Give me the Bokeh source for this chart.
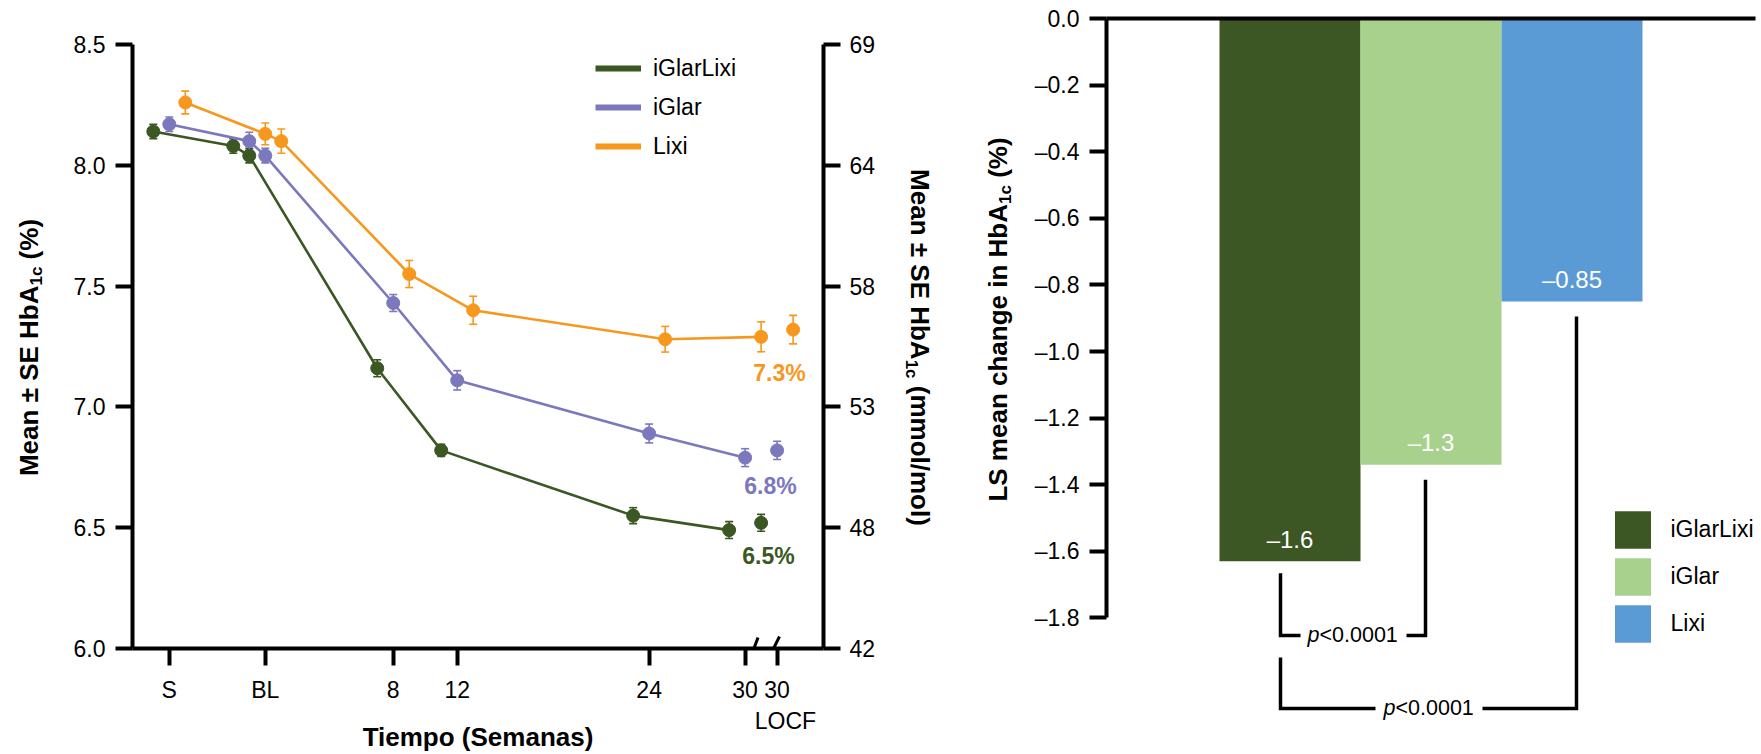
import math
from bokeh.plotting import figure
from bokeh.layouts import row, column
from bokeh.models import (ColumnDataSource, FixedTicker, LinearAxis, Range1d, Whisker, TeeHead,
                          Legend, LegendItem)
from bokeh.core.properties import value
from bokeh.embed import file_html
from bokeh.resources import INLINE

FONT = "Liberation Sans"

# ------------------------------------------------------------------ data (left chart)
series_names = ["iGlarLixi", "iGlar", "Lixi"]
series_colors = ["#3B5724", "#7B78BD", "#F7981E"]
visit_weeks = [-6, -1, 0, 8, 12, 24, 30]          # S, week -1, BL, 8, 12, 24, 30
locf_week = 32
series_dodge = [-1, 0, 1]
hba1c_iglarlixi = [8.14, 8.08, 8.04, 7.16, 6.82, 6.55, 6.49]
hba1c_iglar     = [8.17, 8.10, 8.04, 7.43, 7.11, 6.89, 6.79]
hba1c_lixi      = [8.26, 8.13, 8.10, 7.55, 7.40, 7.28, 7.29]
se_iglarlixi = [0.030, 0.030, 0.030, 0.035, 0.025, 0.033, 0.035]
se_iglar     = [0.030, 0.037, 0.030, 0.035, 0.040, 0.039, 0.037]
se_lixi      = [0.047, 0.045, 0.050, 0.056, 0.058, 0.053, 0.062]
locf_hba1c = [6.52, 6.82, 7.32]
locf_se    = [0.035, 0.038, 0.059]
endpoint_labels = ["6.5%", "6.8%", "7.3%"]
x_tick_values = [-6, 0, 8, 12, 24, 30, 32]
x_tick_labels = ["S", "BL", "8", "12", "24", "30", "30"]
locf_label = "LOCF"
x_title = "Tiempo (Semanas)"
pct_ticks = [6.0, 6.5, 7.0, 7.5, 8.0, 8.5]
pct_tick_labels = ["6.0", "6.5", "7.0", "7.5", "8.0", "8.5"]
mmol_tick_labels = ["42", "48", "53", "58", "64", "69"]

# ------------------------------------------------------------------ data (right chart)
bar_groups = ["iGlarLixi", "iGlar", "Lixi"]
bar_colors = ["#3C5724", "#A9D18E", "#5B9BD5"]
bar_pos = [1, 2, 3]
ls_mean_change = [-1.63, -1.34, -0.85]
ls_mean_labels = ["\u20131.6", "\u20131.3", "\u20130.85"]
change_ticks = [0.0, -0.2, -0.4, -0.6, -0.8, -1.0, -1.2, -1.4, -1.6, -1.8]
change_tick_labels = ["0.0", "\u20130.2", "\u20130.4", "\u20130.6", "\u20130.8",
                      "\u20131.0", "\u20131.2", "\u20131.4", "\u20131.6", "\u20131.8"]
p_italic = "p"
p_rest = "<0.0001"

# ------------------------------------------------------------------ layout (page pixels)
H = 752
T1_X = (0, 60)
P1_X = (60, 890)
T2_X = (890, 1020)
P2_X = (1020, 1758)
P1_H = 705

LF_L, LF_R, LF_T, LF_B = 132, 823, 44, 650
L_X = (-8.3, 34.9)
L_Y = (6.0, 8.5)

RF_L, RF_R, RF_T, RF_B = 1106, 1755, 18, 730
R_PPU_X = 141.0
R_X0 = 1 - (1289.5 - RF_L) / R_PPU_X
R_X = (R_X0, R_X0 + (RF_R - RF_L) / R_PPU_X)
R_PPU_Y = 333.0
R_Y = (-(RF_B - RF_T) / R_PPU_Y, 0.0)


def lx(px):
    return L_X[0] + (px - LF_L) * (L_X[1] - L_X[0]) / (LF_R - LF_L)


def ly(py):
    return L_Y[1] - (py - LF_T) * (L_Y[1] - L_Y[0]) / (LF_B - LF_T)


def rx(px):
    return R_X[0] + (px - RF_L) * (R_X[1] - R_X[0]) / (RF_R - RF_L)


def ry(py):
    return R_Y[1] - (py - RF_T) * (R_Y[1] - R_Y[0]) / (RF_B - RF_T)


ARIAL_BOLD = {' ': 278, '\u00b1': 549, '(': 333, ')': 333, '%': 889, '/': 278, '1': 556,
              'A': 722, 'E': 667, 'H': 722, 'L': 611, 'M': 833, 'S': 667, 'a': 556,
              'b': 611, 'c': 556, 'e': 556, 'g': 611, 'h': 611, 'i': 278, 'l': 278,
              'm': 889, 'n': 611, 'o': 611}


def tw(s, fs):
    return sum(ARIAL_BOLD.get(ch, 556) for ch in s) * fs / 1000.0


def text_fig(x0, x1, y0, y1):
    f = figure(width=x1 - x0, height=y1 - y0, x_range=Range1d(x0, x1), y_range=Range1d(-y1, -y0),
               x_axis_location=None, y_axis_location=None, toolbar_location=None,
               output_backend="svg", title=None, min_border=0, frame_align=False)
    f.outline_line_color = None
    f.grid.visible = False
    f.background_fill_color = "white"
    f.border_fill_color = "white"
    return f


def rot_title(f, center_x, center_y, main1, sub, main2, up, fs=26, sfs=17, shift=8):
    """Rotated bold title with a subscript; center_x is the centre of the capitals."""
    gap = tw(" ", fs)
    w1, ws, w2 = tw(main1, fs), tw(sub, sfs), tw(main2, fs)
    total = w1 + ws + gap + w2
    ang = math.pi / 2 if up else -math.pi / 2
    s = -1 if up else 1
    start = center_y - s * total / 2
    P = start + s * w1
    Q = P + s * (ws + gap)
    sx = center_x + (shift if up else -shift)
    common = dict(angle=ang, text_font=value(FONT), text_font_style="bold",
                  text_baseline="middle", text_color="black")
    f.text(x=[center_x], y=[-P], text=[main1], text_align="right",
           text_font_size=f"{fs}px", **common)
    f.text(x=[sx], y=[-P], text=[sub], text_align="left",
           text_font_size=f"{sfs}px", **common)
    f.text(x=[center_x], y=[-Q], text=[main2], text_align="left",
           text_font_size=f"{fs}px", **common)


def style_axis(ax, fs="23px", standoff=10):
    ax.axis_line_width = 4
    ax.axis_line_color = "black"
    ax.major_tick_line_width = 4
    ax.major_tick_line_color = "black"
    ax.major_tick_out = 17
    ax.major_tick_in = 0
    ax.minor_tick_line_color = None
    ax.major_label_text_font = FONT
    ax.major_label_text_font_size = fs
    ax.major_label_text_color = "black"
    ax.major_label_standoff = standoff


# ================================================================== left chart
p1 = figure(width=P1_X[1] - P1_X[0], height=P1_H, x_range=Range1d(*L_X), y_range=Range1d(*L_Y),
            output_backend="svg", toolbar_location=None, title=None, frame_align=False,
            min_border_left=LF_L - P1_X[0], min_border_right=P1_X[1] - LF_R,
            min_border_top=LF_T, min_border_bottom=P1_H - LF_B)
p1.outline_line_color = None
p1.grid.visible = False
p1.background_fill_color = "white"
p1.border_fill_color = "white"

xa = p1.xaxis[0]
xa.ticker = FixedTicker(ticks=x_tick_values)
xa.major_label_overrides = dict(zip(x_tick_values, x_tick_labels))
style_axis(xa, standoff=11)

ya = p1.yaxis[0]
ya.ticker = FixedTicker(ticks=pct_ticks)
ya.major_label_overrides = dict(zip(pct_ticks, pct_tick_labels))
style_axis(ya, standoff=10)

ya2 = LinearAxis(ticker=FixedTicker(ticks=pct_ticks),
                 major_label_overrides=dict(zip(pct_ticks, mmol_tick_labels)))
style_axis(ya2, standoff=9)
p1.add_layout(ya2, "right")

all_vals = [hba1c_iglarlixi, hba1c_iglar, hba1c_lixi]
all_se = [se_iglarlixi, se_iglar, se_lixi]
legend_proxies = []
for i, name in enumerate(series_names):
    c = series_colors[i]
    xs = [w + series_dodge[i] for w in visit_weeks]
    vals = all_vals[i]
    se = all_se[i]
    src = ColumnDataSource(dict(x=xs, y=vals,
                                upper=[v + e for v, e in zip(vals, se)],
                                lower=[v - e for v, e in zip(vals, se)]))
    lsrc = ColumnDataSource(dict(x=[locf_week + series_dodge[i]], y=[locf_hba1c[i]],
                                 upper=[locf_hba1c[i] + locf_se[i]],
                                 lower=[locf_hba1c[i] - locf_se[i]]))
    for s_ in (src, lsrc):
        w = Whisker(source=s_, base="x", upper="upper", lower="lower",
                    line_color=c, line_width=1.6, level="underlay",
                    upper_head=TeeHead(size=8, line_color=c, line_width=1.6),
                    lower_head=TeeHead(size=8, line_color=c, line_width=1.6))
        p1.add_layout(w)
    p1.line("x", "y", source=src, line_width=2.6, color=c)
    p1.scatter("x", "y", source=src, size=13, color=c)
    p1.scatter("x", "y", source=lsrc, size=13, color=c)
    # single-point line: draws nothing in the plot, gives a thick legend line
    legend_proxies.append(p1.line(x=xs[:1], y=vals[:1], line_width=6, color=c))

# endpoint annotations (centres)
ann_px = [768, 770, 779]
ann_py = [557, 487, 374]
p1.text(x=[lx(v) for v in ann_px], y=[ly(v) for v in ann_py], text=endpoint_labels,
        text_color=series_colors, text_font=value(FONT), text_font_style="bold",
        text_font_size="23px", text_align="center", text_baseline="middle")

legend1 = Legend(items=[LegendItem(label=n, renderers=[r], index=0)
                        for n, r in zip(series_names, legend_proxies)],
                 location=(595 - LF_L, LF_B - (70 - 18 + 3 * 36 + 2 * 3)),
                 glyph_width=46, glyph_height=36, label_height=36, spacing=3,
                 label_standoff=12, padding=0, margin=0, border_line_color=None,
                 background_fill_alpha=0, label_text_font=FONT, label_text_font_size="23px",
                 label_text_color="black")
p1.add_layout(legend1)

# axis break marks (the part above the axis line)
p1.segment(x0=[lx(749), lx(767)], y0=[ly(662), ly(662)], x1=[lx(757.5), lx(779)],
           y1=[ly(639), ly(638)], line_width=3, line_color="black")

# ------------------------------------------------------------------ title strips
t1 = text_fig(T1_X[0], T1_X[1], 0, H)
rot_title(t1, 28, 347, "Mean \u00b1 SE HbA", "1c", "(%)", up=True)

tb = text_fig(P1_X[0], P1_X[1], P1_H, H)
tb.text(x=[785], y=[-720], text=[locf_label], text_font=value(FONT), text_font_size="23px",
        text_align="center", text_baseline="middle", text_color="black")
tb.text(x=[(LF_L + LF_R) / 2], y=[-736], text=[x_title], text_font=value(FONT),
        text_font_style="bold", text_font_size="26px", text_align="center",
        text_baseline="middle", text_color="black")

t2 = text_fig(T2_X[0], T2_X[1], 0, H)
rot_title(t2, 919, 347, "Mean \u00b1 SE HbA", "1c", "(mmol/mol)", up=False)
rot_title(t2, 997, 319, "LS mean change in HbA", "1c", "(%)", up=True)

# ================================================================== right chart
p2 = figure(width=P2_X[1] - P2_X[0], height=H, x_range=Range1d(*R_X), y_range=Range1d(*R_Y),
            x_axis_location=None, output_backend="svg", toolbar_location=None, title=None,
            frame_align=False,
            min_border_left=RF_L - P2_X[0], min_border_right=P2_X[1] - RF_R,
            min_border_top=RF_T, min_border_bottom=H - RF_B)
p2.outline_line_color = None
p2.grid.visible = False
p2.background_fill_color = "white"
p2.border_fill_color = "white"

bsrc = ColumnDataSource(dict(x=bar_pos, bottom=ls_mean_change, color=bar_colors,
                             group=bar_groups))
bars = p2.vbar(x="x", top=0, bottom="bottom", width=1.0, fill_color="color",
               line_color=None, source=bsrc)

yb = p2.yaxis[0]
yb.ticker = FixedTicker(ticks=change_ticks)
yb.major_label_overrides = dict(zip(change_ticks, change_tick_labels))
yb.bounds = (change_ticks[-1], change_ticks[0])
style_axis(yb, standoff=10)

top_ax = LinearAxis(ticker=FixedTicker(ticks=[]), axis_line_width=4, axis_line_color="black",
                    major_tick_out=0, major_tick_in=0, major_tick_line_color=None,
                    minor_tick_line_color=None, major_label_text_font_size="0px",
                    major_label_standoff=0)
p2.add_layout(top_ax, "above")

# bar value labels (centred 22 px above the bar end)
lift = 22 / R_PPU_Y
p2.text(x=bar_pos, y=[v + lift for v in ls_mean_change], text=ls_mean_labels,
        text_color="white", text_font=value(FONT), text_font_size="24px",
        text_align="center", text_baseline="middle")

# significance brackets
b1_y, b2_y = 635, 708
br_xs = [[rx(1280), rx(1280), rx(1300)],
         [rx(1406), rx(1425), rx(1425)],
         [rx(1280), rx(1280), rx(1375)],
         [rx(1482), rx(1576), rx(1576)]]
br_ys = [[ls_mean_change[0] - 12 / R_PPU_Y, ry(b1_y), ry(b1_y)],
         [ry(b1_y), ry(b1_y), ls_mean_change[1] - 15 / R_PPU_Y],
         [ry(657), ry(b2_y), ry(b2_y)],
         [ry(b2_y), ry(b2_y), ls_mean_change[2] - 15 / R_PPU_Y]]
p2.multi_line(xs=br_xs, ys=br_ys, line_width=3.5, line_color="black", line_join="miter")

p_anchor_x = [1319, 1395]
p_mid_y = [b1_y - 1, b2_y - 1]
p2.text(x=[rx(v) for v in p_anchor_x], y=[ry(v) for v in p_mid_y], text=[p_italic] * 2,
        text_font=value(FONT), text_font_style="italic", text_font_size="21.5px",
        text_align="right", text_baseline="middle", text_color="black")
p2.text(x=[rx(v) for v in p_anchor_x], y=[ry(v) for v in p_mid_y], text=[p_rest] * 2,
        text_font=value(FONT), text_font_size="21.5px",
        text_align="left", text_baseline="middle", text_color="black")

legend2 = Legend(items=[LegendItem(label=g, renderers=[bars], index=i) for i, g in enumerate(bar_groups)],
                 location=(1609.5 - RF_L, RF_B - (505.5 + 3 * 47)),
                 glyph_width=45, glyph_height=47, label_height=47, spacing=0,
                 label_standoff=16, padding=0, margin=0, border_line_color=None,
                 background_fill_alpha=0, label_text_font=FONT, label_text_font_size="23px",
                 label_text_color="black")
p2.add_layout(legend2)

layout = row(t1, column(p1, tb), t2, p2)
open("out.html", "w").write(file_html(layout, INLINE))
